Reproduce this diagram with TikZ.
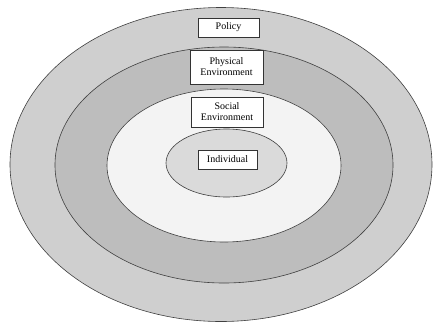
\documentclass[tikz,border=0pt]{standalone}
\usepackage{fontspec}
\setmainfont{Liberation Serif}
\begin{document}
\begin{tikzpicture}[x=1pt,y=-1pt,
  ring/.style={draw=black!75,line width=0.6pt},
  label/.style={draw=black!80,fill=white,line width=0.6pt,font=\fontsize{10}{11}\selectfont,align=center,inner sep=0pt}]
\useasboundingbox (0,0) rectangle (434,322);
\fill[white] (0,0) rectangle (434,322);
\draw[ring,fill={rgb,255:red,207;green,207;blue,207}] (221,164.5) ellipse [x radius=211,y radius=157];
\draw[ring,fill={rgb,255:red,189;green,189;blue,189}] (224,165) ellipse [x radius=169,y radius=118];
\draw[ring,fill={rgb,255:red,243;green,243;blue,243}] (224,165.5) ellipse [x radius=117,y radius=76.5];
\draw[ring,fill={rgb,255:red,218;green,218;blue,218}] (226.5,163) ellipse [x radius=60.5,y radius=34];
\node[label,minimum width=61pt,minimum height=19pt] (policy) at (228.5,27.5) {Policy};
\node[label,minimum width=73pt,minimum height=34pt] (phys) at (226.5,67) {Physical\\Environment};
\node[label,minimum width=72pt,minimum height=30pt] (soc) at (227,112) {Social\\Environment};
\node[label,minimum width=59pt,minimum height=19pt] (ind) at (227.5,159.5) {Individual};
\end{tikzpicture}
\end{document}
